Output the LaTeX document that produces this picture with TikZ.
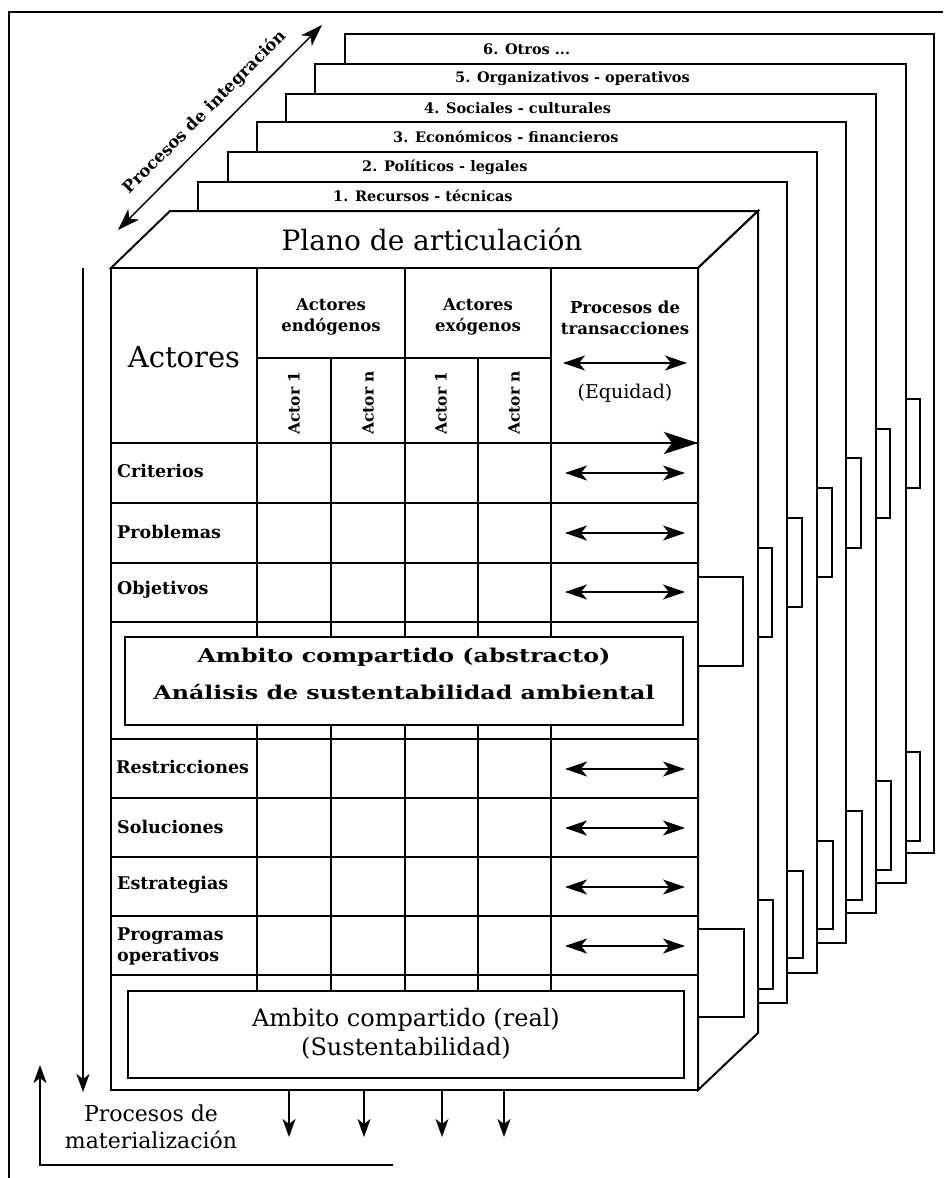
\documentclass[tikz,border=0pt]{standalone}
\usepackage{fontspec}
\setmainfont{DejaVu Serif}
\usepackage{graphicx}
\usetikzlibrary{arrows.meta}

\tikzset{
  outerframe/.style={line width=2pt},
  planelayer/.style={draw, fill=white, line width=1.5pt},
  sidetab/.style={draw, fill=white, line width=2pt},
  boxface/.style={draw, fill=white, line width=2pt, line join=miter},
  tablerule/.style={line width=1.5pt},
  layerlabel/.style={anchor=west, inner sep=0pt, font=\bfseries\fontsize{14.5}{17}\selectfont},
  rowlabel/.style={anchor=west, inner sep=0pt, align=left, font=\bfseries\fontsize{17.5}{21}\selectfont},
  headlabel/.style={align=center, inner sep=0pt, font=\bfseries\fontsize{16.5}{21}\selectfont},
  actorlabel/.style={rotate=90, inner sep=0pt, font=\bfseries\fontsize{15.5}{18}\selectfont},
  sharedbox/.style={draw, fill=white, line width=2pt, inner sep=0pt},
  exchange/.style={line width=1.5pt, {Stealth[length=22pt,width=15pt,inset=6pt]}-{Stealth[length=22pt,width=15pt,inset=6pt]}},
  outflow/.style={line width=1.5pt, -{Stealth[length=18pt,width=13pt,inset=5pt]}},
}

\begin{document}
\begin{tikzpicture}[x=1pt, y=-1pt]
    \useasboundingbox (0,0) rectangle (943,1178);
    \draw[outerframe] (943,12) -- (9,12) -- (9,1178);

    \draw[planelayer] (345,34) rectangle (934,853);
    \node[layerlabel] (otros) at (483,49) {6. Otros ...};

    \draw[planelayer] (315,64) rectangle (906,883);
    \node[layerlabel] (organizativos) at (455,79) {5. Organizativos - operativos};
    \draw[sidetab] (906,399) rectangle (920,488);
    \draw[sidetab] (906,752) rectangle (920,841);

    \draw[planelayer] (286,94) rectangle (876,913);
    \node[layerlabel] (sociales) at (424,108) {4. Sociales - culturales};
    \draw[sidetab] (876,429) rectangle (890,518);
    \draw[sidetab] (876,781) rectangle (891,870);

    \draw[planelayer] (257,122) rectangle (846,943);
    \node[layerlabel] (economicos) at (393,137) {3. Económicos - financieros};
    \draw[sidetab] (846,458) rectangle (861,548);
    \draw[sidetab] (846,811) rectangle (862,900);

    \draw[planelayer] (228,152) rectangle (817,973);
    \node[layerlabel] (politicos) at (362,167) {2. Políticos - legales};
    \draw[sidetab] (817,488) rectangle (832,577);
    \draw[sidetab] (817,841) rectangle (833,929);

    \draw[planelayer] (198,182) rectangle (787,1003);
    \node[layerlabel] (recursos) at (333,196) {1. Recursos - técnicas};
    \draw[sidetab] (787,518) rectangle (802,607);
    \draw[sidetab] (787,871) rectangle (803,958);

    \draw[boxface] (111,268) -- (170,211) -- (758,211) -- (698,268) -- cycle;
    \node[font=\fontsize{28}{34}\selectfont] (plano) at (432,239) {Plano de articulación};
    \draw[boxface] (698,268) -- (758,211) -- (758,1033) -- (698,1090) -- cycle;
    \draw[sidetab] (758,548) rectangle (772,637);
    \draw[sidetab] (758,900) rectangle (773,989);
    \draw[sidetab] (698,577) rectangle (743,666);
    \draw[sidetab] (698,929) rectangle (744,1017);
    \draw[boxface] (111,268) rectangle (698,1090);

    \draw[tablerule] (257,268) -- (257,991) (331,358) -- (331,991)
      (405,268) -- (405,991) (478,358) -- (478,991) (551,268) -- (551,991)
      (257,358) -- (551,358);
    \draw[tablerule] (111,443) -- (698,443) (111,503) -- (698,503)
      (111,563) -- (698,563) (111,622) -- (698,622) (111,739) -- (698,739)
      (111,798) -- (698,798) (111,857) -- (698,857) (111,916) -- (698,916)
      (111,975) -- (698,975);

    \node[font=\fontsize{29}{34}\selectfont] (actores) at (184,357) {Actores};
    \node[headlabel] (endogenos) at (331,317) {Actores\\endógenos};
    \node[headlabel] (exogenos) at (478,317) {Actores\\exógenos};
    \node[headlabel] (transacciones) at (625,318) {Procesos de\\transacciones};
    \node[font=\fontsize{19}{23}\selectfont] (equidad) at (625,393) {(Equidad)};
    \node[actorlabel] (endo-1) at (294,403) {Actor 1};
    \node[actorlabel] (endo-n) at (368,403) {Actor n};
    \node[actorlabel] (exo-1) at (441,403) {Actor 1};
    \node[actorlabel] (exo-n) at (514,403) {Actor n};

    \coordinate (trans-w) at (563,363);
    \coordinate (trans-e) at (687,363);
    \draw[exchange] (trans-w) -- (trans-e);
    \coordinate (eje-w) at (551,443);
    \coordinate (eje-e) at (698,443);
    \draw[line width=2.5pt, -{Stealth[length=34pt,width=22pt,inset=8pt]}] (eje-w) -- (eje-e);

    \node[rowlabel] (criterios) at (117,471) {Criterios};
    \node[rowlabel] (problemas) at (117,532) {Problemas};
    \node[rowlabel] (objetivos) at (117,590) {Objetivos};
    \node[rowlabel] (restricciones) at (116,767) {Restricciones};
    \node[rowlabel] (soluciones) at (117,827) {Soluciones};
    \node[rowlabel] (estrategias) at (117,885) {Estrategias};
    \node[rowlabel] (programas) at (117,946) {Programas\\operativos};

    \coordinate (crit-w) at (565,473);  \coordinate (crit-e) at (685,473);
    \coordinate (prob-w) at (565,533);  \coordinate (prob-e) at (685,533);
    \coordinate (obj-w) at (565,592);   \coordinate (obj-e) at (685,592);
    \coordinate (rest-w) at (565,769);  \coordinate (rest-e) at (685,769);
    \coordinate (sol-w) at (565,828);   \coordinate (sol-e) at (685,828);
    \coordinate (estr-w) at (565,887);  \coordinate (estr-e) at (685,887);
    \coordinate (prog-w) at (565,946);  \coordinate (prog-e) at (685,946);
    \draw[exchange] (crit-w) -- (crit-e);
    \draw[exchange] (prob-w) -- (prob-e);
    \draw[exchange] (obj-w) -- (obj-e);
    \draw[exchange] (rest-w) -- (rest-e);
    \draw[exchange] (sol-w) -- (sol-e);
    \draw[exchange] (estr-w) -- (estr-e);
    \draw[exchange] (prog-w) -- (prog-e);

    \node[sharedbox, minimum width=558pt, minimum height=88pt] (abstracto) at (404,681) {};
    \node[align=center, inner sep=0pt, font=\bfseries\fontsize{19}{37}\selectfont] (abstracto-txt) at (404,674)
      {\scalebox{1.25}[1]{Ambito compartido (abstracto)}\\\scalebox{1.25}[1]{Análisis de sustentabilidad ambiental}};
    \node[sharedbox, minimum width=556pt, minimum height=87pt, align=center, font=\fontsize{24}{29}\selectfont] (real) at (406,1034)
      {Ambito compartido (real)\\(Sustentabilidad)};

    \coordinate (int-w) at (118,230);
    \coordinate (int-e) at (322,25);
    \draw[exchange] (int-w) -- node[midway, sloped, above=12pt, inner sep=0pt, font=\bfseries\fontsize{16.5}{20}\selectfont] (integracion) {Procesos de integración} (int-e);

    \coordinate (bajada-n) at (83,268);
    \coordinate (bajada-s) at (83,1092);
    \draw[outflow] (bajada-n) -- (bajada-s);
    \coordinate (retorno-e) at (393,1165);
    \coordinate (retorno-s) at (40,1165);
    \coordinate (retorno-n) at (40,1065);
    \draw[outflow] (retorno-e) -- (retorno-s) -- (retorno-n);
    \node[align=center, font=\fontsize{22}{27}\selectfont] (materializacion) at (151,1127) {Procesos de\\materialización};

    \coordinate (sal1-n) at (289,1090);  \coordinate (sal1-s) at (289,1137);
    \coordinate (sal2-n) at (364,1090);  \coordinate (sal2-s) at (364,1137);
    \coordinate (sal3-n) at (442,1090);  \coordinate (sal3-s) at (442,1137);
    \coordinate (sal4-n) at (504,1090);  \coordinate (sal4-s) at (504,1137);
    \draw[outflow] (sal1-n) -- (sal1-s);
    \draw[outflow] (sal2-n) -- (sal2-s);
    \draw[outflow] (sal3-n) -- (sal3-s);
    \draw[outflow] (sal4-n) -- (sal4-s);
\end{tikzpicture}
\end{document}
